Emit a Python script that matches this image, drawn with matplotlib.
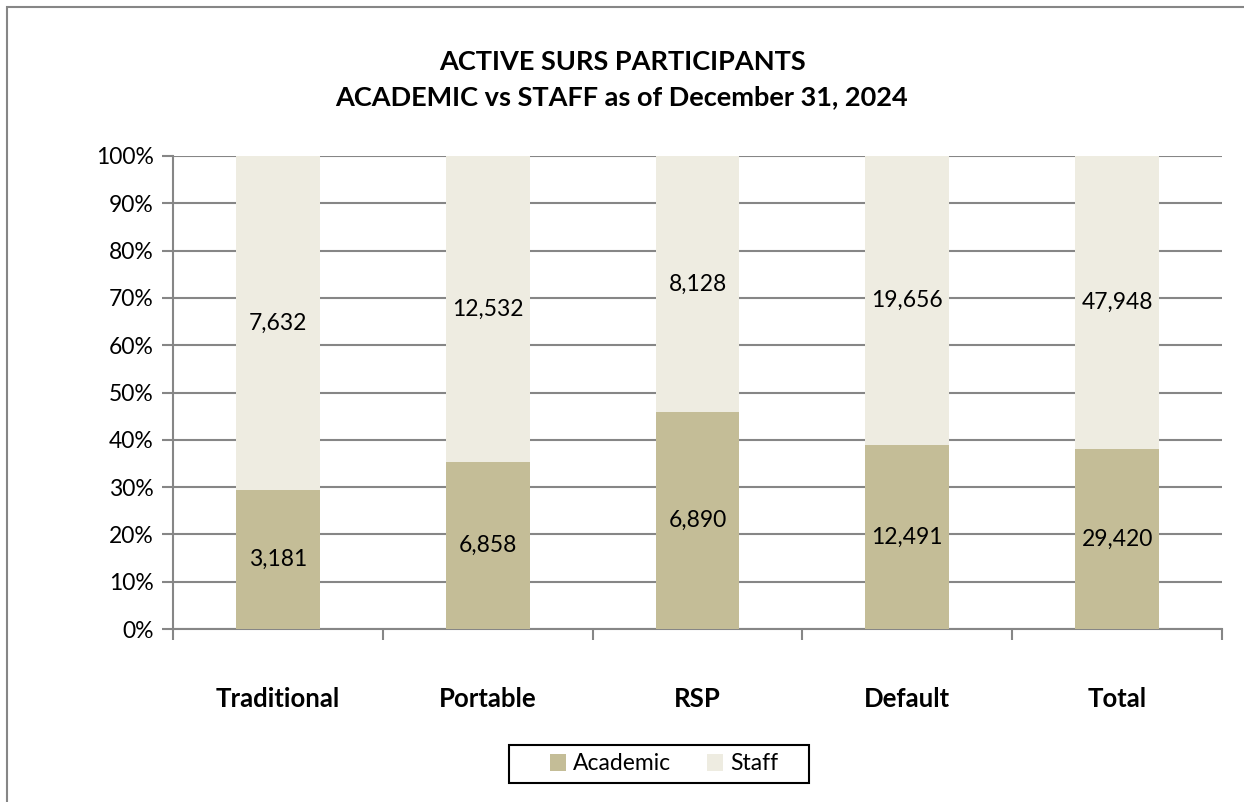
import numpy as np
import matplotlib.pyplot as plt
from matplotlib.patches import Rectangle

# --- DATA
categories = ['Traditional', 'Portable', 'RSP', 'Default', 'Total']
academic = [3181, 6858, 6890, 12491, 29420]
staff = [7632, 12532, 8128, 19656, 47948]
y_ticks = [0, 10, 20, 30, 40, 50, 60, 70, 80, 90, 100]

ACADEMIC_COLOR = '#C4BD97'
STAFF_COLOR = '#EEECE1'
GRID_COLOR = '#868686'

plt.rcParams['font.family'] = ['Lato', 'DejaVu Sans']

academic = np.array(academic, dtype=float)
staff = np.array(staff, dtype=float)
total = academic + staff
acad_pct = academic / total * 100
staff_pct = staff / total * 100

fig = plt.figure(figsize=(12.44, 8.02), dpi=100)
ax = fig.add_axes([173 / 1244, 1 - 629 / 802, 1049 / 1244, 473 / 802])

x = np.arange(len(categories))
ax.bar(x, acad_pct, width=0.4, color=ACADEMIC_COLOR, label='Academic', zorder=3)
ax.bar(x, staff_pct, width=0.4, bottom=acad_pct, color=STAFF_COLOR, label='Staff', zorder=3)

for i in range(len(categories)):
    ax.text(x[i], acad_pct[i] / 2, f"{int(academic[i]):,}", ha='center', va='center',
            fontsize=16.5, color='black', zorder=4)
    ax.text(x[i], acad_pct[i] + staff_pct[i] / 2, f"{int(staff[i]):,}", ha='center', va='center',
            fontsize=16.5, color='black', zorder=4)

ax.set_xlim(-0.5, len(categories) - 0.5)
ax.set_ylim(0, 100)
ax.set_yticks(y_ticks)
ax.set_yticklabels([f"{t}%" for t in y_ticks], fontsize=16.5)
ax.yaxis.grid(True, color=GRID_COLOR, linewidth=1.5, zorder=0)
ax.tick_params(axis='y', length=8, width=1.5, color=GRID_COLOR, pad=6)

# category ticks at boundaries, labels in the middle
ax.set_xticks(np.arange(-0.5, len(categories), 1.0))
ax.set_xticklabels([])
ax.set_xticks(x, minor=True)
ax.set_xticklabels(categories, minor=True, fontsize=18.5, fontweight='bold')
ax.tick_params(axis='x', which='major', length=8, width=1.5, color=GRID_COLOR)
ax.tick_params(axis='x', which='minor', length=0, pad=42)

for side in ['top', 'right']:
    ax.spines[side].set_visible(False)
ax.spines['left'].set_color(GRID_COLOR)
ax.spines['left'].set_linewidth(1.5)
ax.spines['bottom'].set_color(GRID_COLOR)
ax.spines['bottom'].set_linewidth(1.5)

fig.text(0.5, 1 - 62 / 802, 'ACTIVE SURS PARTICIPANTS', ha='center', va='center',
         fontsize=19.5, fontweight='bold')
fig.text(0.5, 1 - 97 / 802, 'ACADEMIC vs STAFF as of December 31, 2024', ha='center', va='center',
         fontsize=19.5, fontweight='bold')

# legend without its own frame; box drawn separately to get Excel-like padding
leg = fig.legend(loc='center', bbox_to_anchor=(664 / 1244, 1 - 764 / 802), ncol=2,
                 fontsize=16.5, frameon=False, handlelength=0.7, handleheight=0.7,
                 handletextpad=0.3, columnspacing=1.6, borderpad=0, borderaxespad=0)
fig.patches.append(Rectangle((509 / 1244, 1 - 783 / 802), 300 / 1244, 38 / 802,
                             transform=fig.transFigure, fill=False,
                             edgecolor='black', linewidth=1.5))

# outer chart border (runs past right and bottom edge)
fig.patches.append(Rectangle((7 / 1244, -0.1), 1.2, 1 - 7 / 802 + 0.1, transform=fig.transFigure,
                             fill=False, edgecolor=GRID_COLOR, linewidth=1.5))

fig.savefig('out.png', dpi=100)
